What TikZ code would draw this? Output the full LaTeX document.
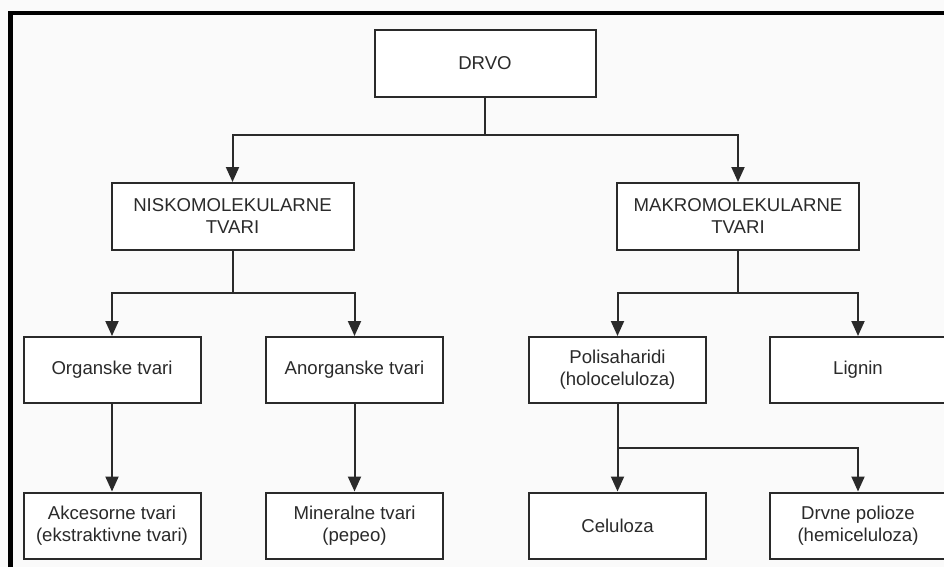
\documentclass[tikz,border=0pt]{standalone}
\usepackage{fontspec}
\setmainfont{Liberation Sans}
\usetikzlibrary{arrows.meta}
\definecolor{ink}{HTML}{2A2A2A}
\begin{document}
\begin{tikzpicture}[x=1pt,y=-1pt,
  box/.style={draw=ink, line width=2pt, fill=white, align=center, text=ink,
    font=\fontsize{18.6}{22}\selectfont, inner sep=0pt},
  boxA/.style={box, minimum width=221pt, minimum height=67pt},
  boxB/.style={box, minimum width=242pt, minimum height=67pt},
  boxC/.style={box, minimum width=177pt, minimum height=66pt},
  conn/.style={draw=ink, line width=2pt},
  arr/.style={conn, -{Triangle[length=15pt,width=13pt]}}]
\useasboundingbox (0,0) rectangle (944,567);
\fill[white!98!black] (0,0) rectangle (944,567);
% frame
\draw[line width=4.5pt, black] (10.5,567) -- (10.5,13) -- (944,13);
% nodes
\node[boxA] (drvo) at (485,63.5) {DRVO};
\node[boxB] (nisk) at (232.5,216.5) {NISKOMOLEKULARNE\\TVARI};
\node[boxB] (makro) at (738,216.5) {MAKROMOLEKULARNE\\TVARI};
\node[boxC] (org) at (112,370) {Organske tvari};
\node[boxC] (anorg) at (354.5,370) {Anorganske tvari};
\node[boxC] (polis) at (617.5,370) {Polisaharidi\\(holoceluloza)};
\node[boxC] (lignin) at (858,370) {Lignin};
\node[boxC] (akc) at (112,525.5) {Akcesorne tvari\\(ekstraktivne tvari)};
\node[boxC] (miner) at (354.5,525.5) {Mineralne tvari\\(pepeo)};
\node[boxC] (celul) at (617.5,525.5) {Celuloza};
\node[boxC] (drvne) at (858,525.5) {Drvne polioze\\(hemiceluloza)};
% junctions
\coordinate (j1) at (485,135);
\coordinate (j2) at (232.5,293);
\coordinate (j3) at (738,293);
\coordinate (j4) at (617.5,448);
% connectors
\draw[conn] (drvo.south) -- (j1);
\draw[arr] (j1) -| (nisk.north);
\draw[arr] (j1) -| (makro.north);
\draw[conn] (nisk.south) -- (j2);
\draw[arr] (j2) -| (org.north);
\draw[arr] (j2) -| (anorg.north);
\draw[conn] (makro.south) -- (j3);
\draw[arr] (j3) -| (polis.north);
\draw[arr] (j3) -| (lignin.north);
\draw[arr] (org.south) -- (akc.north);
\draw[arr] (anorg.south) -- (miner.north);
\draw[arr] (polis.south) -- (celul.north);
\draw[arr] (j4) -| (drvne.north);
\end{tikzpicture}
\end{document}
